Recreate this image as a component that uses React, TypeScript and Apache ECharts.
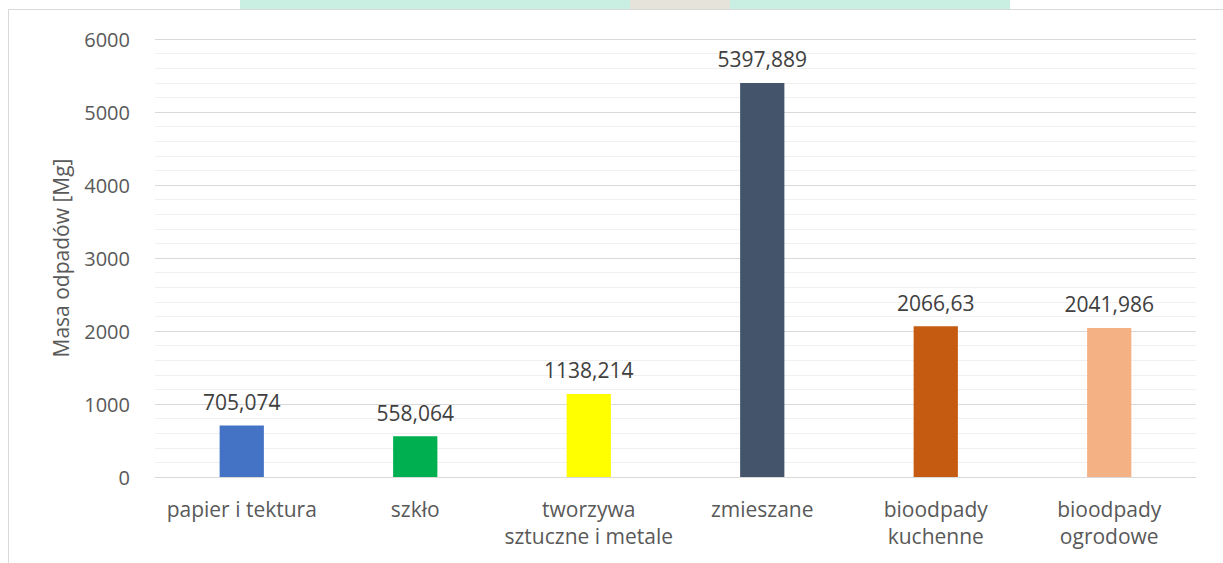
import React, { useEffect, useRef } from "react";
import * as echarts from "echarts";

const categories = [
  "papier i tektura",
  "szkło",
  "tworzywa\nsztuczne i metale",
  "zmieszane",
  "bioodpady\nkuchenne",
  "bioodpady\nogrodowe",
];
const values = [705.074, 558.064, 1138.214, 5397.889, 2066.63, 2041.986];
const valueLabels = ["705,074", "558,064", "1138,214", "5397,889", "2066,63", "2041,986"];
const colors = ["#4472C4", "#00B050", "#FFFF00", "#44546A", "#C55A11", "#F4B183"];
const yAxisName = "Masa odpadów [Mg]";

export default function App() {
  const ref = useRef<HTMLDivElement>(null);
  useEffect(() => {
    if (!ref.current) return;
    const chart = echarts.init(ref.current, null, { renderer: "svg" });
    const font = "'Open Sans', 'Liberation Sans', sans-serif";
    chart.setOption({
      animation: false,
      backgroundColor: "#ffffff",
      grid: { left: 155, right: 27, top: 39, bottom: 86 },
      graphic: [
        {
          type: "rect",
          shape: { x: 240, y: 0, width: 770, height: 9 },
          style: { fill: "#c9efe3" },
          z: 0,
        },
        {
          type: "rect",
          shape: { x: 630, y: 0, width: 100, height: 9 },
          style: { fill: "#e6e3da" },
          z: 0,
        },
        {
          type: "line",
          shape: { x1: 8.5, y1: 9.5, x2: 1223, y2: 9.5 },
          style: { stroke: "#d9d9d9", lineWidth: 1 },
        },
        {
          type: "line",
          shape: { x1: 8.5, y1: 9.5, x2: 8.5, y2: 563 },
          style: { stroke: "#d9d9d9", lineWidth: 1 },
        },
      ],
      xAxis: {
        type: "category",
        data: categories,
        axisLine: { show: true, lineStyle: { color: "#d9d9d9", width: 1 } },
        axisTick: { show: false },
        axisLabel: {
          color: "#595959",
          fontSize: 21,
          fontFamily: font,
          margin: 18,
          lineHeight: 27,
          interval: 0,
        },
      },
      yAxis: {
        type: "value",
        min: 0,
        max: 6000,
        interval: 1000,
        name: yAxisName,
        nameLocation: "middle",
        nameGap: 84,
        nameTextStyle: { color: "#595959", fontSize: 21, fontFamily: font },
        axisLine: { show: false },
        axisTick: { show: false },
        axisLabel: {
          color: "#595959",
          fontSize: 20,
          fontFamily: font,
          margin: 25,
          formatter: (v: number) => String(v),
        },
        splitLine: { show: true, lineStyle: { color: "#d9d9d9", width: 1 } },
        minorTick: { show: false, splitNumber: 5 },
        minorSplitLine: { show: true, lineStyle: { color: "#f0f0f0", width: 1 } },
      },
      series: [
        {
          type: "bar",
          barWidth: "25.5%",
          data: values.map((v, i) => ({ value: v, itemStyle: { color: colors[i] } })),
          label: {
            show: true,
            position: "top",
            distance: 13,
            color: "#404040",
            fontSize: 21,
            fontFamily: font,
            formatter: (p: any) => valueLabels[p.dataIndex],
          },
        },
      ],
    });
    return () => chart.dispose();
  }, []);
  return (
    <div
      ref={ref}
      style={{ position: "absolute", left: 0, top: 0, width: 1223, height: 563 }}
    />
  );
}
